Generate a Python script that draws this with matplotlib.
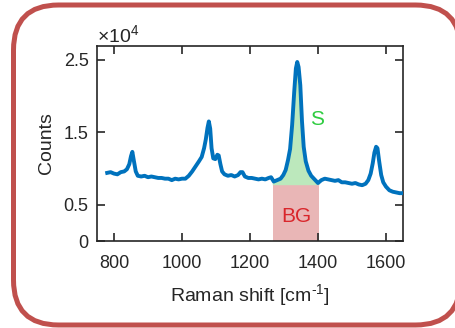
import numpy as np
import matplotlib
matplotlib.use("Agg")
import matplotlib.pyplot as plt
from matplotlib.patches import FancyBboxPatch, Rectangle

plt.rcParams['font.family'] = ['Liberation Sans', 'DejaVu Sans']
plt.rcParams['mathtext.fontset'] = 'custom'
plt.rcParams['mathtext.rm'] = 'Liberation Sans'
plt.rcParams['mathtext.it'] = 'Liberation Sans:italic'

# Raman spectrum (counts in units of 1e4)
shift = [780, 790, 800, 810, 820, 830, 838, 845, 850, 854, 858, 864, 870, 880, 890,
         900, 910, 920, 930, 940, 950, 960, 970, 980, 990, 1000, 1010, 1020, 1030,
         1040, 1050, 1058, 1065, 1070, 1075, 1079, 1083, 1087, 1092, 1098, 1104,
         1108, 1113, 1118, 1125, 1135, 1145, 1155, 1165, 1172, 1178, 1185, 1195,
         1205, 1215, 1225, 1235, 1245, 1255, 1262, 1270, 1280, 1290, 1298, 1305,
         1312, 1318, 1324, 1330, 1335, 1339, 1343, 1348, 1353, 1358, 1364, 1372,
         1380, 1390, 1400, 1410, 1420, 1430, 1440, 1450, 1460, 1470, 1480, 1490,
         1500, 1510, 1520, 1530, 1540, 1548, 1555, 1561, 1566, 1571, 1575, 1580,
         1586, 1592, 1600, 1610, 1620, 1630, 1640, 1650]
counts = [0.94, 0.95, 0.93, 0.92, 0.95, 0.96, 0.99, 1.06, 1.17, 1.23, 1.12, 0.96,
          0.90, 0.89, 0.90, 0.88, 0.89, 0.88, 0.87, 0.87, 0.86, 0.86, 0.84, 0.86,
          0.85, 0.86, 0.86, 0.90, 0.96, 1.03, 1.10, 1.16, 1.28, 1.40, 1.56, 1.65,
          1.55, 1.28, 1.14, 1.13, 1.19, 1.18, 1.06, 0.96, 0.92, 0.90, 0.91, 0.89,
          0.91, 0.95, 0.95, 0.89, 0.87, 0.87, 0.86, 0.85, 0.86, 0.85, 0.87, 0.88,
          0.82, 0.84, 0.86, 0.91, 0.98, 1.12, 1.27, 1.60, 2.05, 2.38, 2.47, 2.40,
          2.15, 1.65, 1.30, 1.10, 0.97, 0.90, 0.85, 0.80, 0.84, 0.86, 0.85, 0.84,
          0.83, 0.84, 0.81, 0.81, 0.80, 0.79, 0.80, 0.78, 0.77, 0.79, 0.84, 0.93,
          1.07, 1.22, 1.30, 1.28, 1.10, 0.91, 0.81, 0.75, 0.70, 0.68, 0.67, 0.66,
          0.66]

# Integration window: background box and signal above it
bg_range = [1267, 1404]
bg_level = 0.77

x_ticks = [800, 1000, 1200, 1400, 1600]
y_ticks = [0, 0.5, 1.5, 2.5]
y_tick_labels = ['0', '0.5', '1.5', '2.5']

ink = '#262626'
line_blue = '#0072BD'

fig = plt.figure(figsize=(4.56, 3.28), dpi=100)

# rounded frame around the panel (its right side runs past the figure edge);
# filled white and kept behind the axes
frame = FancyBboxPatch((0.135, 0.03), 4.47, 3.2,
                       boxstyle="round,pad=0,rounding_size=0.45",
                       transform=fig.dpi_scale_trans, facecolor='white',
                       edgecolor='#c0504d', linewidth=3.6, clip_on=False,
                       zorder=-1)
fig.patches.append(frame)

ax = fig.add_axes([0.2127, 0.2652, 0.671, 0.5945])

sx = np.array(shift, dtype=float)
sy = np.array(counts, dtype=float)

ax.add_patch(Rectangle((bg_range[0], 0), bg_range[1] - bg_range[0], bg_level,
                       facecolor='#e9b6b6', edgecolor='none', zorder=1))

# signal region between spectrum and background level
inside = (sx > bg_range[0]) & (sx < bg_range[1])
px = np.concatenate([[bg_range[0]], sx[inside], [bg_range[1]]])
py = np.concatenate([[np.interp(bg_range[0], sx, sy)], sy[inside],
                     [np.interp(bg_range[1], sx, sy)]])
ax.fill_between(px, py, bg_level, facecolor='#bce8bc', edgecolor='none', zorder=1)

ax.plot(sx, sy, color=line_blue, linewidth=2.8, zorder=3)

ax.text(1397, 1.68, 'S', color='#2ecc40', fontsize=15, ha='center', va='center')
ax.text(1335, 0.34, 'BG', color='#d9262b', fontsize=15, ha='center', va='center')

ax.set_xlim(750, 1650)
ax.set_ylim(0, 2.69)
ax.set_xticks(x_ticks)
ax.set_yticks(y_ticks)
ax.set_yticklabels(y_tick_labels)

ax.tick_params(direction='in', length=6, width=1.2, colors=ink, labelsize=13,
               top=True, right=True)
ax.tick_params(axis='x', pad=10)
ax.tick_params(axis='y', pad=6)
for sp in ax.spines.values():
    sp.set_color(ink)
    sp.set_linewidth(1.2)

ax.set_xlabel(r'Raman shift [cm$^{\text{-}1}$]', fontsize=14, color=ink, labelpad=7)
ax.set_ylabel('Counts', fontsize=14, color=ink, labelpad=6)
ax.text(0.0, 1.0, '×10$^4$', transform=ax.transAxes, fontsize=14, color=ink,
        ha='left', va='bottom')

fig.savefig('out.png', dpi=100)
